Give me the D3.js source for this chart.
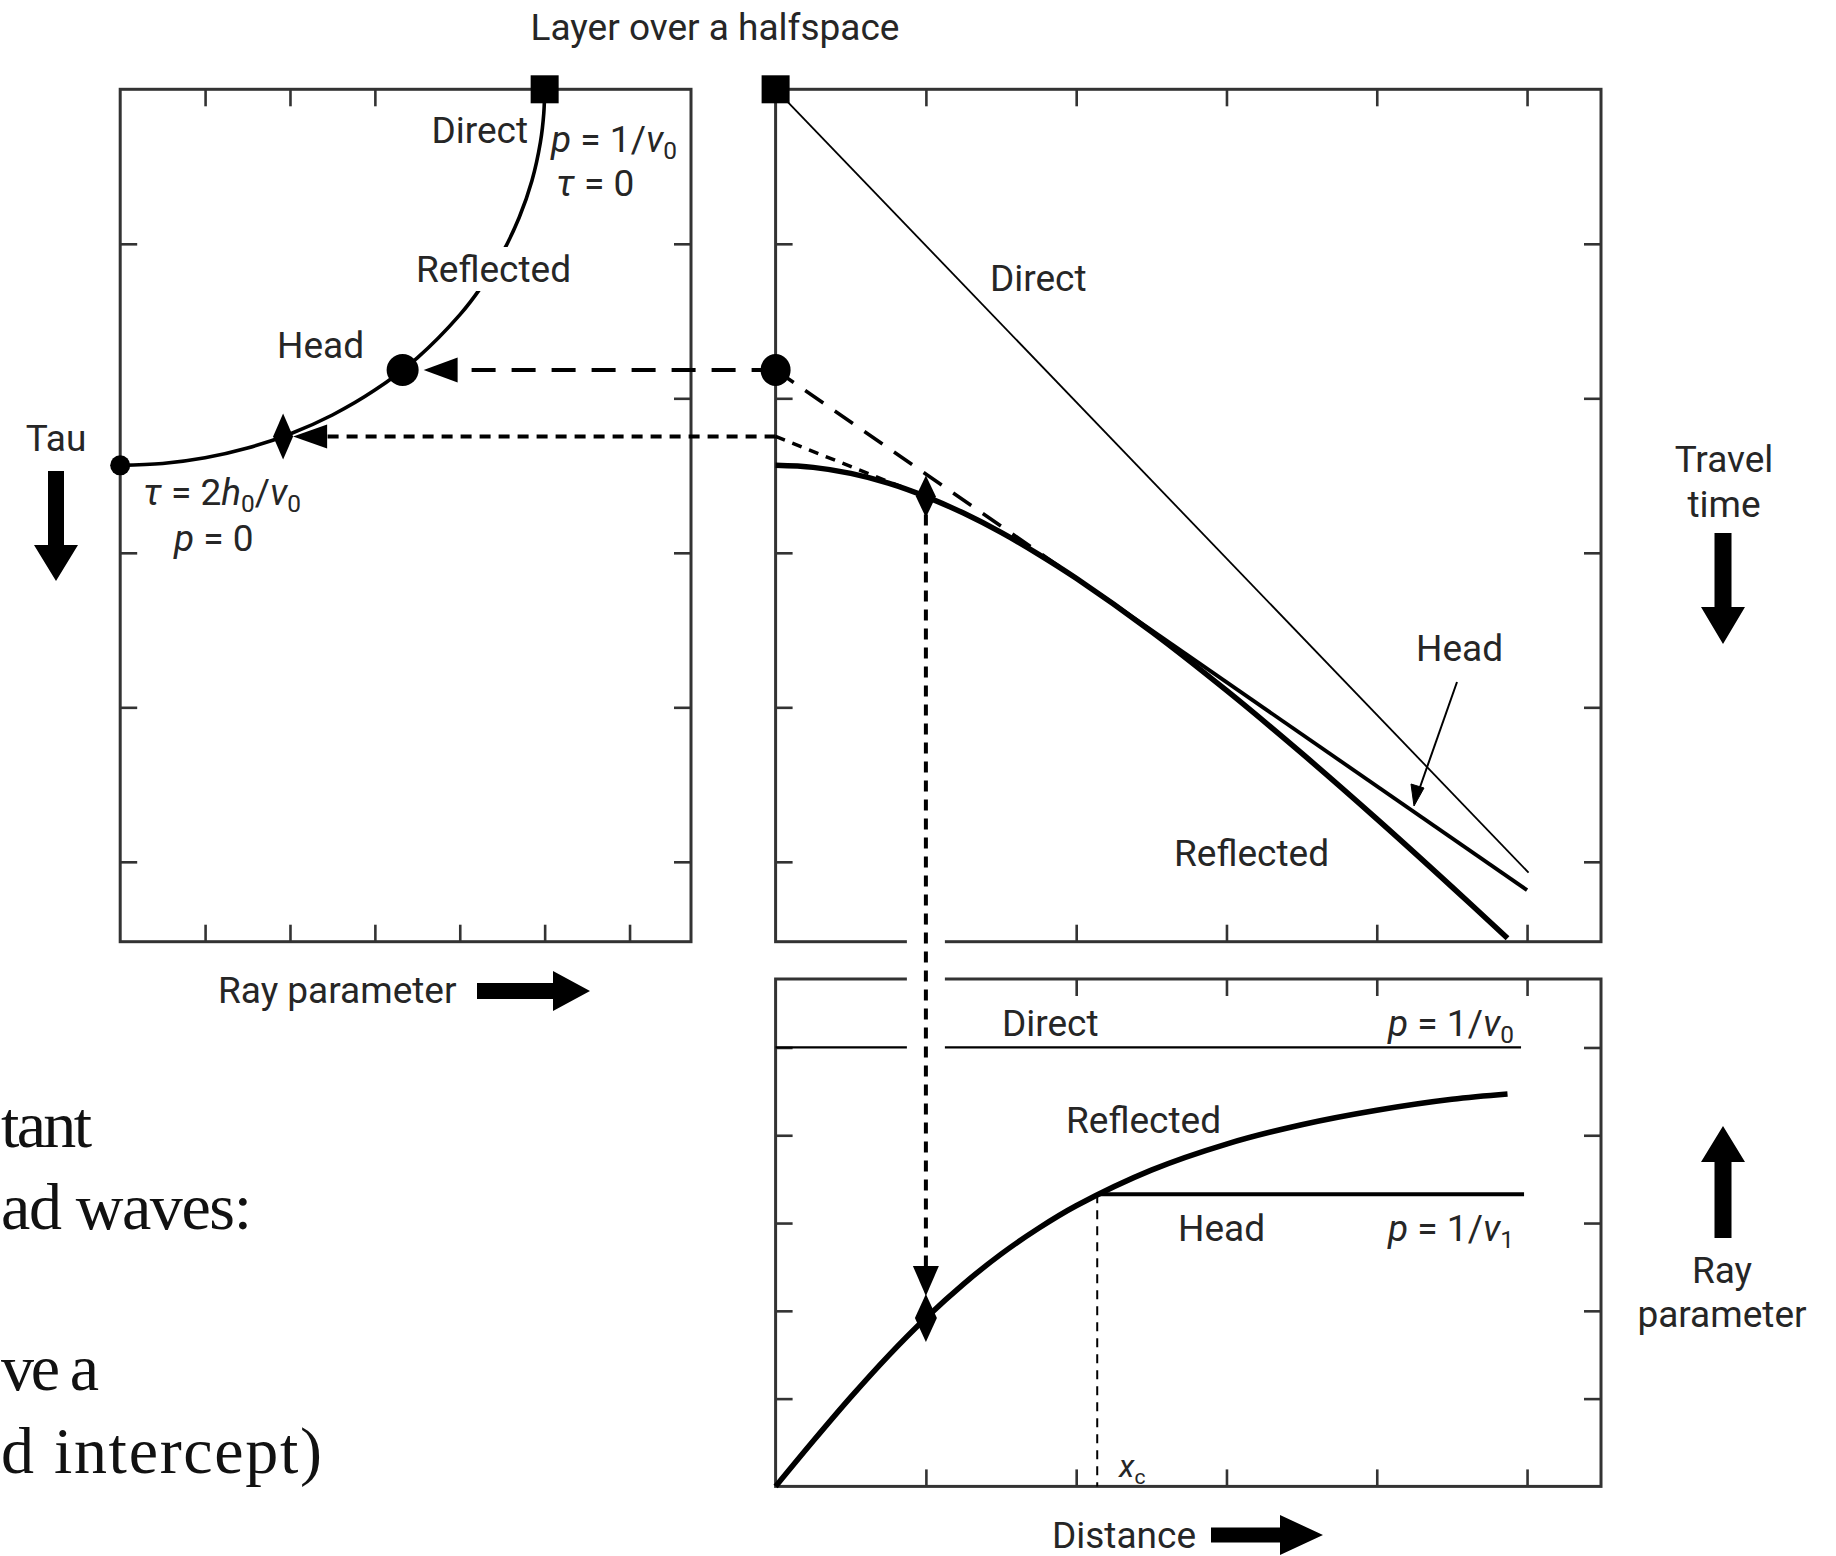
<!DOCTYPE html>
<html><head><meta charset="utf-8">
<script src="https://cdn.jsdelivr.net/npm/d3@7"></script>
<style>
html,body{margin:0;padding:0;background:#fff;}
svg{display:block;}
text{font-family:Roboto,"Open Sans",sans-serif;fill:#262626;}
.serif{font-family:"Liberation Serif","Times New Roman",serif;fill:#111;}
</style></head><body>
<svg id="c" width="1836" height="1556"></svg>
<script>
// ---------------- data ----------------
// tick values (in tick units) on each frame edge
const distTicks = [1, 2, 3, 4, 5];
const timeTicks = [1, 2, 3, 4, 5];
const tauTicksLeft = [1, 3, 4, 5];
const tauTicksRight = [1, 2, 3, 4, 5];
const rayTicksTop = [1, 2, 3];
const rayTicksBottom = [1, 2, 3, 4, 5, 6];
const pTicks = [1, 2, 3, 4, 5];

// travel time vs distance  [distance, time]
const directTX = [[0, 0], [5.01, 5.07]];
const reflectedTX = [[0, 2.434], [0.25, 2.447], [0.5, 2.486], [0.75, 2.549], [1.0, 2.636], [1.25, 2.743],
  [1.5, 2.868], [1.75, 3.010], [2.0, 3.165], [2.5, 3.510], [3.0, 3.891], [3.5, 4.297], [4.0, 4.722],
  [4.5, 5.162], [4.87, 5.495]];
const headTX = [[2.14, 3.258], [5.0, 5.183]];
const headExtensionTX = [[0, 1.817], [2.14, 3.258]];
const tangentTX = [[0, 2.247], [1.0, 2.636]];

// tau vs ray parameter  [p, tau]
const reflectedTauP = [[0, 2.434], [0.5, 2.422], [1.0, 2.385], [1.5, 2.322], [2.0, 2.231], [2.5, 2.108],
  [3.0, 1.947], [3.5, 1.738], [4.0, 1.460], [4.25, 1.282], [4.5, 1.061], [4.7, 0.830], [4.85, 0.592],
  [4.95, 0.343], [4.99, 0.154], [5.0, 0]];

// ray parameter vs distance  [distance, p]
const directPX = [[0, 5.0], [4.96, 5.0]];
const reflectedPX = [[0, 0], [0.25, 0.517], [0.5, 1.017], [0.75, 1.488], [1.0, 1.919], [1.25, 2.305],
  [1.5, 2.646], [1.75, 2.941], [2.0, 3.197], [2.5, 3.603], [3.0, 3.900], [3.5, 4.120], [4.0, 4.285],
  [4.5, 4.410], [4.87, 4.470]];
const headPX = [[2.14, 3.327], [4.98, 3.327]];
const criticalLine = [[2.14, 3.327], [2.14, 0]];

// key points
const directPt = {x: 0, t: 0, p: 5.0, tau: 0};
const headPt = {x: 0, tau: 1.817, p: 3.327};
const samplePt = {x: 1.0, t: 2.636, p: 1.919, tau: 2.247};
const zeroPt = {p: 0, tau: 2.434};

// slide text fragments visible at the left edge
const slideLines = ["tant", "ad waves:", "ve a", "d intercept)"];

// ---------------- scales ----------------
const svg = d3.select("#c");
const rx = d3.scaleLinear().domain([0, 5.492]).range([775.6, 1601]);   // distance
const ry = d3.scaleLinear().domain([0, 5.517]).range([89.3, 941.7]);   // travel time / tau
const lx = d3.scaleLinear().domain([0, 6.724]).range([120.2, 691]);    // ray parameter (left)
const by = d3.scaleLinear().domain([0, 5.78]).range([1486.4, 979]);    // ray parameter (bottom)

const FR = "#333";
function frame(x, y, t) {
  const [x0, x1] = x.range();
  const y0 = Math.min(...y.range()), y1 = Math.max(...y.range());
  const g = svg.append("g").attr("color", FR);
  const add = (axis, tx, ty, vals) => g.append("g")
    .attr("transform", `translate(${tx},${ty})`)
    .call(axis.tickValues(vals).tickSize(-17).tickSizeOuter(0).tickFormat(""));
  add(d3.axisTop(x), 0, y0, t.top);
  add(d3.axisBottom(x), 0, y1, t.bottom);
  add(d3.axisLeft(y), x0, 0, t.left);
  add(d3.axisRight(y), x1, 0, t.right);
  g.selectAll(".domain").remove();
  g.selectAll(".tick text").remove();
  g.selectAll(".tick line").attr("stroke-width", 2.6);
  g.append("rect").attr("x", x0).attr("y", y0).attr("width", x1 - x0).attr("height", y1 - y0)
    .attr("fill", "none").attr("stroke", FR).attr("stroke-width", 3);
}
frame(lx, ry, {top: rayTicksTop, bottom: rayTicksBottom, left: tauTicksLeft, right: tauTicksRight});
frame(rx, ry, {top: distTicks, bottom: distTicks, left: timeTicks, right: timeTicks});
frame(rx, by, {top: distTicks, bottom: distTicks, left: pTicks, right: pTicks});

const lineTX = d3.line().x(d => rx(d[0])).y(d => ry(d[1]));
const lineTP = d3.line().x(d => lx(d[0])).y(d => ry(d[1]));
const linePX = d3.line().x(d => rx(d[0])).y(d => by(d[1]));
const smooth = d3.curveCatmullRom.alpha(0.5);

function path(d, gen, w, dash) {
  const p = svg.append("path").attr("d", gen(d)).attr("fill", "none").attr("stroke", "#000")
    .attr("stroke-width", w).attr("stroke-linecap", "butt").attr("stroke-linejoin", "round");
  if (dash) p.attr("stroke-dasharray", dash);
  return p;
}

// --- right top panel: travel time
path(directTX, lineTX, 1.8);
path(headTX, lineTX, 3.8);
path(reflectedTX, lineTX.curve(smooth), 5.5);
lineTX.curve(d3.curveLinear);
path(headExtensionTX, lineTX, 3.5, "22,14");
path(tangentTX, lineTX, 3.5, "10,8");

// --- left panel: tau-p
path(reflectedTauP, lineTP.curve(smooth), 3.6);

// --- bottom panel: p-x
path(directPX, linePX, 2.2);
path(headPX, linePX, 4);
path(criticalLine, linePX, 2, "9,7");
path(reflectedPX, linePX.curve(smooth), 5.5);

// white halo where the vertical dotted line crosses panel edges
svg.append("rect").attr("x", rx(samplePt.x) - 19).attr("y", ry.range()[1] - 17)
  .attr("width", 38).attr("height", by(directPt.p) - ry.range()[1] + 30).attr("fill", "#fff");

// ---------------- connectors ----------------
function arrowHead(x, y, dir, len, half) {
  let d;
  if (dir === "left") d = `M${x},${y}L${x + len},${y - half}L${x + len},${y + half}Z`;
  else if (dir === "down") d = `M${x},${y}L${x - half},${y - len}L${x + half},${y - len}Z`;
  svg.append("path").attr("d", d).attr("fill", "#000");
}
// dashed: head point in t-x  ->  head point in tau-p
const yHead = ry(headPt.tau);
svg.append("line").attr("x1", rx(headPt.x)).attr("x2", lx(headPt.p) + 55).attr("y1", yHead).attr("y2", yHead)
  .attr("stroke", "#000").attr("stroke-width", 4).attr("stroke-dasharray", "24,16");
arrowHead(lx(headPt.p) + 21, yHead, "left", 34, 12.5);

// dotted: tangent intercept -> tau-p
const ySample = ry(samplePt.tau);
svg.append("line").attr("x1", rx(0)).attr("x2", lx(samplePt.p) + 44).attr("y1", ySample).attr("y2", ySample)
  .attr("stroke", "#000").attr("stroke-width", 4).attr("stroke-dasharray", "11,8");
arrowHead(lx(samplePt.p) + 10, ySample, "left", 34, 12);

// dotted vertical: sample distance -> p-x
const xs = rx(samplePt.x);
svg.append("line").attr("x1", xs).attr("x2", xs).attr("y1", ry(samplePt.t) + 18).attr("y2", by(samplePt.p) - 50)
  .attr("stroke", "#000").attr("stroke-width", 4).attr("stroke-dasharray", "11,8");
arrowHead(xs, by(samplePt.p) - 22, "down", 30, 13);

// ---------------- markers ----------------
function diamond(x, y, w, h) {
  svg.append("path").attr("d", `M${x},${y - h / 2}L${x + w / 2},${y}L${x},${y + h / 2}L${x - w / 2},${y}Z`)
    .attr("fill", "#000");
}
diamond(lx(samplePt.p), ry(samplePt.tau), 20, 46);
diamond(rx(samplePt.x), ry(samplePt.t), 20, 42);
diamond(rx(samplePt.x), by(samplePt.p), 22, 48);

svg.append("rect").attr("x", lx(directPt.p) - 14).attr("y", ry(directPt.tau) - 14).attr("width", 28).attr("height", 28).attr("fill", "#000");
svg.append("rect").attr("x", rx(directPt.x) - 14).attr("y", ry(directPt.t) - 14).attr("width", 28).attr("height", 28).attr("fill", "#000");
svg.append("ellipse").attr("cx", lx(headPt.p)).attr("cy", ry(headPt.tau)).attr("rx", 16).attr("ry", 16).attr("fill", "#000");
svg.append("ellipse").attr("cx", rx(headPt.x)).attr("cy", ry(headPt.tau)).attr("rx", 15).attr("ry", 16).attr("fill", "#000");
svg.append("circle").attr("cx", lx(zeroPt.p)).attr("cy", ry(zeroPt.tau)).attr("r", 10).attr("fill", "#000");

// ---------------- text ----------------
const FS = 37;
function label(x, y, parts, anchor, size) {
  const t = svg.append("text").attr("x", x).attr("y", y).attr("font-size", size || FS)
    .attr("text-anchor", anchor || "start");
  if (typeof parts === "string") parts = [{t: parts}];
  let shift = 0;
  parts.forEach(p => {
    const s = t.append("tspan").text(p.t);
    if (p.i) s.attr("font-style", "italic");
    if (p.sub) { s.attr("font-size", "0.66em").attr("dy", 7); shift = 7; }
    else if (shift) { s.attr("dy", -shift); shift = 0; }
  });
  return t;
}
// white gap behind the left "Reflected" label
svg.append("rect").attr("x", 412).attr("y", 247).attr("width", 170).attr("height", 44).attr("fill", "#fff");

label(715, 40, "Layer over a halfspace", "middle");
label(528, 143, "Direct", "end");
label(551, 152, [{t: "p", i: 1}, {t: " = 1/"}, {t: "v", i: 1}, {t: "0", sub: 1}]);
label(556, 196, [{t: "τ", i: 1}, {t: " = 0"}]);
label(416, 282, "Reflected");
label(277, 358, "Head");
label(56, 451, "Tau", "middle");
label(143, 505, [{t: "τ", i: 1}, {t: " = 2"}, {t: "h", i: 1}, {t: "0", sub: 1}, {t: "/"}, {t: "v", i: 1}, {t: "0", sub: 1}]);
label(174, 551, [{t: "p", i: 1}, {t: " = 0"}]);
label(218, 1003, "Ray parameter");

label(990, 291, "Direct");
label(1416, 661, "Head");
label(1174, 866, "Reflected");
label(1724, 472, "Travel", "middle");
label(1724, 517, "time", "middle");

label(1002, 1036, "Direct");
label(1388, 1036, [{t: "p", i: 1}, {t: " = 1/"}, {t: "v", i: 1}, {t: "0", sub: 1}]);
label(1066, 1133, "Reflected");
label(1178, 1241, "Head");
label(1388, 1241, [{t: "p", i: 1}, {t: " = 1/"}, {t: "v", i: 1}, {t: "1", sub: 1}]);
label(1119, 1477, [{t: "x", i: 1}, {t: "c", sub: 1}], "start", 32);
label(1052, 1548, "Distance");
label(1722, 1283, "Ray", "middle");
label(1722, 1327, "parameter", "middle");

// Head pointer
svg.append("line").attr("x1", 1457).attr("y1", 682).attr("x2", 1419).attr("y2", 790)
  .attr("stroke", "#000").attr("stroke-width", 2);
svg.append("path").attr("d", "M1414,806L1411,784L1424,788Z").attr("fill", "#000").attr("stroke", "#000").attr("stroke-width", 1);

// block arrows
function blockArrow(x1, y1, x2, y2, shaft, head, headLen) {
  const ang = Math.atan2(y2 - y1, x2 - x1), L = Math.hypot(x2 - x1, y2 - y1);
  const s = shaft / 2, h = head / 2, b = L - headLen;
  svg.append("path").attr("transform", `translate(${x1},${y1}) rotate(${ang * 180 / Math.PI})`)
    .attr("d", `M0,${-s}L${b},${-s}L${b},${-h}L${L},0L${b},${h}L${b},${s}L0,${s}Z`).attr("fill", "#000");
}
blockArrow(56, 471, 56, 581, 16, 44, 36);
blockArrow(477, 991, 590, 991, 16, 40, 37);
blockArrow(1723, 533, 1723, 644, 17, 44, 37);
blockArrow(1723, 1238, 1723, 1126, 17, 44, 36);
blockArrow(1211, 1535, 1323, 1535, 15, 40, 43);

// cropped slide text (serif), visible fragments only
const slideEnds = [92, 252, 99, 322];
const slideBaselines = [1147, 1229, 1390, 1473];
slideLines.forEach((s, i) => svg.append("text").attr("class", "serif").attr("x", 1).attr("y", slideBaselines[i])
  .attr("font-size", 66).attr("textLength", slideEnds[i] - 1).attr("lengthAdjust", "spacing").text(s));
</script></body></html>
